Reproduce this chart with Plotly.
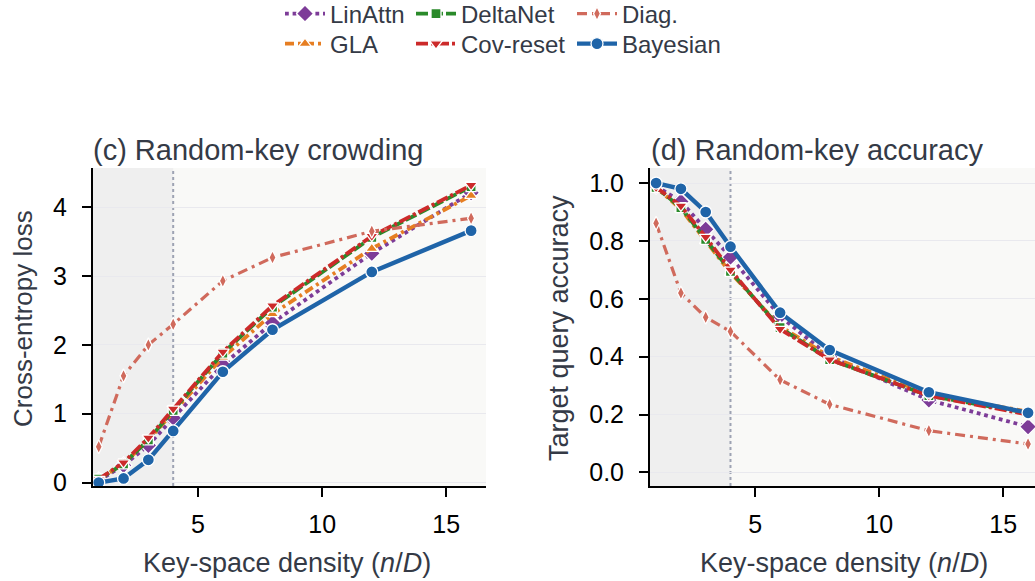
import plotly.graph_objects as go

x_vals = [1, 2, 3, 4, 6, 8, 12, 16]

loss_linattn = [0.03, 0.25, 0.54, 0.94, 1.71, 2.32, 3.33, 4.21]
loss_gla = [0.05, 0.27, 0.62, 1.02, 1.82, 2.45, 3.40, 4.17]
loss_deltanet = [0.05, 0.27, 0.62, 1.05, 1.88, 2.55, 3.56, 4.30]
loss_covreset = [0.05, 0.29, 0.65, 1.07, 1.90, 2.57, 3.58, 4.32]
loss_diag = [0.52, 1.55, 2.00, 2.30, 2.93, 3.27, 3.65, 3.84]
loss_bayes = [0.00, 0.06, 0.33, 0.75, 1.61, 2.22, 3.06, 3.66]

acc_linattn = [0.99, 0.936, 0.84, 0.744, 0.54, 0.40, 0.25, 0.158]
acc_gla = [0.985, 0.91, 0.80, 0.69, 0.505, 0.40, 0.27, 0.21]
acc_deltanet = [0.985, 0.915, 0.805, 0.695, 0.50, 0.39, 0.265, 0.205]
acc_covreset = [0.985, 0.921, 0.813, 0.70, 0.495, 0.39, 0.265, 0.20]
acc_diag = [0.861, 0.62, 0.536, 0.487, 0.32, 0.235, 0.144, 0.098]
acc_bayes = [1.0, 0.98, 0.90, 0.78, 0.552, 0.423, 0.277, 0.206]

FONT = "Liberation Sans"
TXT = "#343a46"

series = [
    # name, loss, acc, color, dash, width, symbol, msize, legend
    ("LinAttn", loss_linattn, acc_linattn, "#7d3c98", "dot", 3.8, "diamond", 13, "legend"),
    ("GLA", loss_gla, acc_gla, "#e67e22", "9px,4px,3px,4px", 3.8, "triangle-up", 11, "legend4"),
    ("DeltaNet", loss_deltanet, acc_deltanet, "#2a8a2a", "12px,3px", 3.8, "square", 10, "legend2"),
    ("Cov-reset", loss_covreset, acc_covreset, "#cc2a2a", "12px,3px,3px,3px", 3.8, "triangle-down", 11, "legend5"),
    ("Diag.", loss_diag, acc_diag, "#d06a5c", "10px,5px,3px,5px", 3.2, "diamond-tall", 10, "legend3"),
    ("Bayesian", loss_bayes, acc_bayes, "#1f64a8", "solid", 4.4, "circle", 12, "legend6"),
]

fig = go.Figure()
for name, ly, ay, col, dash, w, sym, ms, lg in series:
    for i, (yy, xa, ya) in enumerate([(ly, "x", "y"), (ay, "x2", "y2")]):
        fig.add_trace(go.Scatter(
            x=x_vals, y=yy, xaxis=xa, yaxis=ya, mode="lines+markers", name=name,
            line=dict(color=col, width=w, dash=dash),
            marker=dict(symbol=sym, size=ms, color=col, line=dict(color="white", width=1.3)),
            legend=lg, showlegend=(i == 0),
        ))

W, H = 1035, 581
def px(v):
    return v / W
def py(v):
    return 1 - v / H

xr1 = [0.77, 16.6]
xr2 = [0.754, 16.28]
yr1 = [-0.05, 4.57]
yr2 = [-0.047, 1.052]

axis_common = dict(
    showline=True, linecolor="black", linewidth=2, ticks="outside", ticklen=9,
    tickwidth=2, tickcolor="black", tickfont=dict(family=FONT, size=25, color="black"),
    zeroline=False, automargin=False,
)

fig.update_layout(
    width=W, height=H, margin=dict(l=0, r=0, t=0, b=0, autoexpand=False),
    paper_bgcolor="white", plot_bgcolor="#f9f9f7",
    font=dict(family=FONT, color=TXT),
    xaxis=dict(domain=[px(93), px(486)], range=xr1, tickvals=[5, 10, 15], showgrid=False,
               anchor="y", ticklabelstandoff=6, **axis_common),
    yaxis=dict(domain=[py(486), py(168)], range=yr1, tickvals=[0, 1, 2, 3, 4], showgrid=True,
               gridcolor="#e9e9ee", gridwidth=1, anchor="x", ticklabelstandoff=10, **axis_common),
    xaxis2=dict(domain=[px(650), 1.0], range=xr2, tickvals=[5, 10, 15], showgrid=False,
                anchor="y2", ticklabelstandoff=6, **axis_common),
    yaxis2=dict(domain=[py(486), py(168)], range=yr2, tickvals=[0, 0.2, 0.4, 0.6, 0.8, 1.0],
                tickformat=".1f", showgrid=True, gridcolor="#e9e9ee", gridwidth=1, anchor="x2",
                ticklabelstandoff=10, **axis_common),
)

leg_common = dict(
    orientation="v", xanchor="left", yanchor="middle", bgcolor="rgba(0,0,0,0)",
    font=dict(family=FONT, size=24, color=TXT), itemwidth=40,
)
fig.update_layout(
    legend=dict(x=px(280), y=py(14), **leg_common),
    legend2=dict(x=px(411), y=py(14), **leg_common),
    legend3=dict(x=px(572), y=py(14), **leg_common),
    legend4=dict(x=px(280), y=py(44), **leg_common),
    legend5=dict(x=px(411), y=py(44), **leg_common),
    legend6=dict(x=px(572), y=py(44), **leg_common),
)

shapes = []
for xa, ya, xr in [("x", "y", xr1), ("x2", "y2", xr2)]:
    shapes.append(dict(type="rect", xref=xa, yref=ya + " domain", x0=xr[0], x1=4, y0=0, y1=1,
                       fillcolor="#efefef", line=dict(width=0), layer="below"))
    shapes.append(dict(type="line", xref=xa, yref=ya + " domain", x0=4, x1=4, y0=0, y1=1,
                       line=dict(color="#9ea3b3", width=2, dash="dot"), layer="below"))
fig.update_layout(shapes=shapes)

annotations = [
    dict(text="(c) Random-key crowding", x=px(91), y=py(150), xref="paper", yref="paper",
         xanchor="left", yanchor="middle", showarrow=False, font=dict(family=FONT, size=29, color=TXT)),
    dict(text="(d) Random-key accuracy", x=px(649), y=py(150), xref="paper", yref="paper",
         xanchor="left", yanchor="middle", showarrow=False, font=dict(family=FONT, size=29, color=TXT)),
    dict(text="Key-space density (<i>n</i>/<i>D</i>)", x=px(287), y=py(563), xref="paper", yref="paper",
         xanchor="center", yanchor="middle", showarrow=False, font=dict(family=FONT, size=27, color=TXT)),
    dict(text="Key-space density (<i>n</i>/<i>D</i>)", x=px(844), y=py(563), xref="paper", yref="paper",
         xanchor="center", yanchor="middle", showarrow=False, font=dict(family=FONT, size=27, color=TXT)),
    dict(text="Cross-entropy loss", x=px(23), y=py(319), xref="paper", yref="paper", textangle=-90,
         xanchor="center", yanchor="middle", showarrow=False, font=dict(family=FONT, size=26, color=TXT)),
    dict(text="Target query accuracy", x=px(559), y=py(328), xref="paper", yref="paper", textangle=-90,
         xanchor="center", yanchor="middle", showarrow=False, font=dict(family=FONT, size=27, color=TXT)),
]
fig.update_layout(annotations=annotations)

fig.write_html("out.html", config={"displayModeBar": False},
               post_script="document.body.style.margin='0';")
